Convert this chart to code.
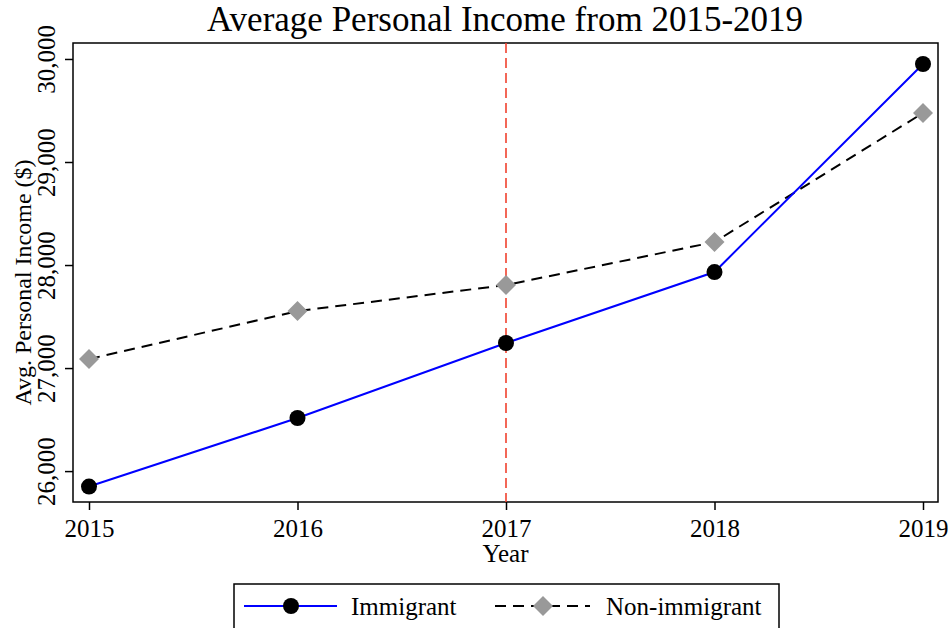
<!DOCTYPE html>
<html>
<head>
<meta charset="utf-8">
<script src="https://cdn.jsdelivr.net/npm/d3@7"></script>
<style>
  body { margin: 0; background: #fff; }
  text { font-family: 'Liberation Serif', 'Times New Roman', serif; fill: #000; }
</style>
</head>
<body>
<script>
// Data
const years = [2015, 2016, 2017, 2018, 2019];
const immigrant = [25850, 26515, 27243, 27932, 29951];
const nonImmigrant = [27087, 27553, 27806, 28223, 29476];
const yTicks = [26000, 27000, 28000, 29000, 30000];
const markerYear = 2017;

const width = 950;
const height = 628;
const plot = { left: 73, right: 938, top: 43, bottom: 502 };

const svg = d3
  .select('body')
  .append('svg')
  .attr('width', width)
  .attr('height', height);

// Scales (a little padding around the data, like the original)
const x = d3
  .scaleLinear()
  .domain([2015 - 16 / 208.5, 2019 + 15 / 208.5])
  .range([plot.left, plot.right]);
const y = d3
  .scaleLinear()
  .domain([25700, 30155])
  .range([plot.bottom, plot.top]);

// Title
svg
  .append('text')
  .attr('x', 505)
  .attr('y', 31)
  .attr('text-anchor', 'middle')
  .style('font-size', '35px')
  .text('Average Personal Income from 2015-2019');

// Axes
const xAxis = d3
  .axisBottom(x)
  .tickValues(years)
  .tickFormat(d3.format('d'))
  .tickSize(8)
  .tickPadding(9);
const yAxis = d3
  .axisLeft(y)
  .tickValues(yTicks)
  .tickFormat(d3.format(','))
  .tickSize(8);

const gx = svg
  .append('g')
  .attr('transform', `translate(0, ${plot.bottom})`)
  .call(xAxis);
gx.select('.domain').remove();
gx.selectAll('line').attr('stroke-width', 1.5);
gx.selectAll('text').style('font-size', '25px').style('font-family', "'Liberation Serif', serif");

const gy = svg
  .append('g')
  .attr('transform', `translate(${plot.left}, 0)`)
  .call(yAxis);
gy.select('.domain').remove();
gy.selectAll('line').attr('stroke-width', 1.5);
gy.selectAll('text')
  .style('font-size', '25px')
  .style('font-family', "'Liberation Serif', serif")
  .attr('x', null)
  .attr('dy', null)
  .attr('text-anchor', 'middle')
  .attr('transform', 'translate(-18, 0) rotate(-90)');

// Frame
svg
  .append('rect')
  .attr('x', plot.left)
  .attr('y', plot.top)
  .attr('width', plot.right - plot.left)
  .attr('height', plot.bottom - plot.top)
  .attr('fill', 'none')
  .attr('stroke', '#000')
  .attr('stroke-width', 1.5);

// Axis titles
svg
  .append('text')
  .attr('x', (plot.left + plot.right) / 2)
  .attr('y', 562)
  .attr('text-anchor', 'middle')
  .style('font-size', '25px')
  .text('Year');

svg
  .append('text')
  .attr('transform', `translate(31, ${(plot.top + plot.bottom) / 2 + 10}) rotate(-90)`)
  .attr('text-anchor', 'middle')
  .style('font-size', '24px')
  .text('Avg. Personal Income ($)');

// Red vertical marker
svg
  .append('line')
  .attr('x1', x(markerYear))
  .attr('x2', x(markerYear))
  .attr('y1', plot.top)
  .attr('y2', plot.bottom)
  .attr('stroke', '#f0412f')
  .attr('stroke-width', 1.6)
  .attr('stroke-dasharray', '10,5');

const line = d3
  .line()
  .x((d) => x(d[0]))
  .y((d) => y(d[1]));

const nonData = years.map((yr, i) => [yr, nonImmigrant[i]]);
const immData = years.map((yr, i) => [yr, immigrant[i]]);

svg
  .append('path')
  .datum(nonData)
  .attr('d', line)
  .attr('fill', 'none')
  .attr('stroke', '#000')
  .attr('stroke-width', 2)
  .attr('stroke-dasharray', '11,7');

svg
  .append('path')
  .datum(immData)
  .attr('d', line)
  .attr('fill', 'none')
  .attr('stroke', '#0000ff')
  .attr('stroke-width', 2);

const diamond = d3.symbol().type(d3.symbolSquare).size(200);

svg
  .append('g')
  .selectAll('path')
  .data(nonData)
  .enter()
  .append('path')
  .attr('d', diamond)
  .attr('transform', (d) => `translate(${x(d[0])}, ${y(d[1])}) rotate(45)`)
  .attr('fill', '#999');

svg
  .append('g')
  .selectAll('circle')
  .data(immData)
  .enter()
  .append('circle')
  .attr('cx', (d) => x(d[0]))
  .attr('cy', (d) => y(d[1]))
  .attr('r', 8)
  .attr('fill', '#000');

// Legend
const legend = svg.append('g').attr('transform', 'translate(234, 584)');
legend
  .append('rect')
  .attr('width', 545)
  .attr('height', 60)
  .attr('fill', '#fff')
  .attr('stroke', '#000')
  .attr('stroke-width', 1.5);

legend
  .append('line')
  .attr('x1', 10)
  .attr('x2', 103)
  .attr('y1', 22)
  .attr('y2', 22)
  .attr('stroke', '#0000ff')
  .attr('stroke-width', 2);
legend.append('circle').attr('cx', 57).attr('cy', 22).attr('r', 8).attr('fill', '#000');
legend
  .append('text')
  .attr('x', 117)
  .attr('y', 31)
  .style('font-size', '25px')
  .text('Immigrant');

legend
  .append('line')
  .attr('x1', 261)
  .attr('x2', 356)
  .attr('y1', 22)
  .attr('y2', 22)
  .attr('stroke', '#000')
  .attr('stroke-width', 2)
  .attr('stroke-dasharray', '11,7');
legend
  .append('path')
  .attr('d', diamond)
  .attr('transform', 'translate(309, 22) rotate(45)')
  .attr('fill', '#999');
legend
  .append('text')
  .attr('x', 372)
  .attr('y', 31)
  .style('font-size', '25px')
  .text('Non-immigrant');
</script>
</body>
</html>
